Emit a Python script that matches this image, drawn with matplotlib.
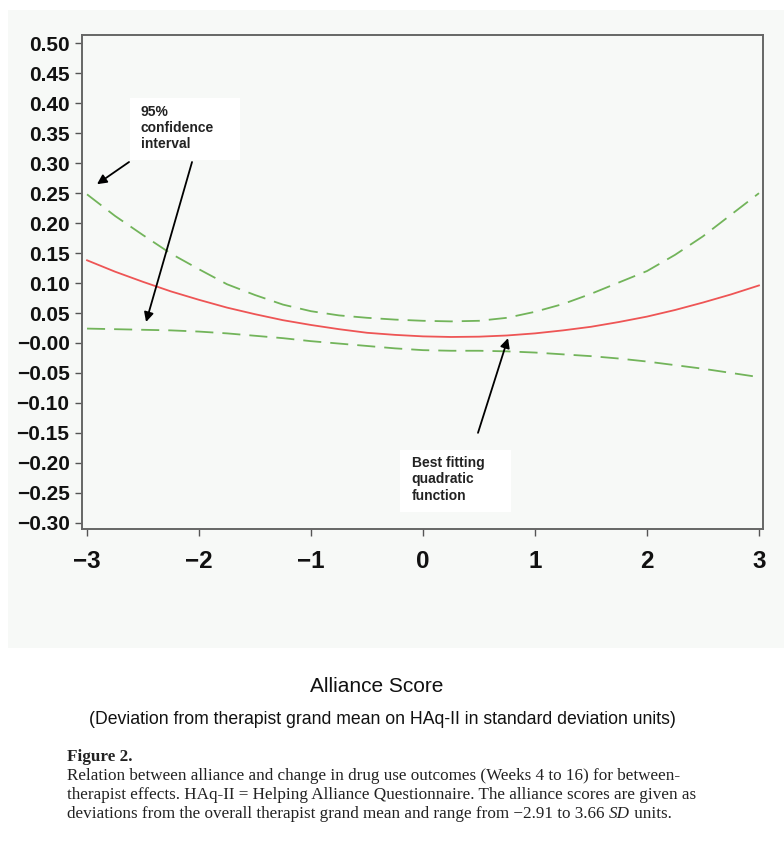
import matplotlib
matplotlib.use("Agg")
import matplotlib.pyplot as plt
from matplotlib.patches import Rectangle

# ---- data ----
x_vals = [-3.0, -2.75, -2.5, -2.25, -2.0, -1.75, -1.5, -1.25, -1.0, -0.75, -0.5, -0.25, 0.0,
          0.25, 0.5, 0.75, 1.0, 1.25, 1.5, 1.75, 2.0, 2.25, 2.5, 2.75, 3.0]
fit_vals = [0.138, 0.119, 0.102, 0.086, 0.072, 0.059, 0.048, 0.038, 0.030, 0.023, 0.017, 0.0135, 0.011,
            0.010, 0.0105, 0.0125, 0.016, 0.021, 0.027, 0.035, 0.044, 0.055, 0.0675, 0.081, 0.096]
upper_vals = [0.248, 0.212, 0.180, 0.149, 0.123, 0.098, 0.080, 0.064, 0.053, 0.046, 0.042, 0.039, 0.037,
              0.036, 0.037, 0.042, 0.052, 0.065, 0.082, 0.101, 0.120, 0.147, 0.178, 0.214, 0.250]
lower_vals = [0.024, 0.023, 0.022, 0.021, 0.019, 0.016, 0.012, 0.008, 0.003, -0.001, -0.005, -0.009, -0.012,
              -0.013, -0.013, -0.014, -0.016, -0.019, -0.022, -0.026, -0.031, -0.037, -0.043, -0.050, -0.057]

x_ticks = [-3, -2, -1, 0, 1, 2, 3]
x_tick_labels = ["\u22123", "\u22122", "\u22121", "0", "1", "2", "3"]
y_ticks = [0.50, 0.45, 0.40, 0.35, 0.30, 0.25, 0.20, 0.15, 0.10, 0.05, 0.00,
           -0.05, -0.10, -0.15, -0.20, -0.25, -0.30]
y_tick_labels = ["0.50", "0.45", "0.40", "0.35", "0.30", "0.25", "0.20", "0.15", "0.10",
                 "0.05", "\u22120.00", "\u22120.05", "\u22120.10", "\u22120.15", "\u22120.20",
                 "\u22120.25", "\u22120.30"]

xlabel = "Alliance Score"
xsublabel = "(Deviation from therapist grand mean on HAq-II in standard deviation units)"
caption_title = "Figure 2."
caption_lines = [
    "Relation between alliance and change in drug use outcomes (Weeks 4 to 16) for between-",
    "therapist effects. HAq-II = Helping Alliance Questionnaire. The alliance scores are given as",
]
caption_last_a = "deviations from the overall therapist grand mean and range from \u22122.91 to 3.66 "
caption_last_b = "SD"
caption_last_c = " units."

W, H = 784, 841
fig = plt.figure(figsize=(W / 100, H / 100), dpi=100, facecolor="white")

bg = "#f7f9f7"
fig.patches.append(Rectangle((8 / W, 1 - 648 / H), 1 - 8 / W, (648 - 10) / H,
                             transform=fig.transFigure, facecolor=bg, edgecolor="none", zorder=-10))

ax = fig.add_axes([82 / W, 1 - 529 / H, 681 / W, 494 / H])
ax.set_facecolor(bg)
ax.set_xlim(-3.045, 3.036)
ax.set_ylim(-0.3105, 0.514)

ax.plot(x_vals, fit_vals, color="#ee5555", lw=1.3)
ax.plot(x_vals, upper_vals, color="#72b45a", lw=1.3, dashes=(10, 5))
ax.plot(x_vals, lower_vals, color="#72b45a", lw=1.3, dashes=(10, 5))

for s in ax.spines.values():
    s.set_color("#666666")
    s.set_linewidth(1.4)

ax.set_xticks(x_ticks)
ax.set_xticklabels(x_tick_labels)
ax.set_yticks(y_ticks)
ax.set_yticklabels(y_tick_labels)
ax.tick_params(axis="both", direction="out", length=5, width=1.0, color="#555555")
ax.tick_params(axis="y", pad=4)
ax.tick_params(axis="x", pad=10)
for lab in ax.get_yticklabels():
    lab.set_fontfamily("Liberation Sans")
    lab.set_fontweight("bold")
    lab.set_fontsize(15)
    lab.set_color("#111111")
for lab in ax.get_xticklabels():
    lab.set_fontfamily("Liberation Sans")
    lab.set_fontweight("bold")
    lab.set_fontsize(17.5)
    lab.set_color("#111111")

# annotation boxes
box_font = dict(fontfamily="Liberation Sans", fontweight="bold", fontsize=10, color="#222222",
                linespacing=1.2)
ax.add_patch(Rectangle((-2.616, 0.305), 0.982, 0.104, facecolor="white", edgecolor="none", zorder=3))
ax.text(-2.52, 0.398, "95%\nconfidence\ninterval", va="top", ha="left", zorder=4, **box_font)
ax.add_patch(Rectangle((-0.205, -0.2823), 0.991, 0.1035, facecolor="white", edgecolor="none", zorder=3))
ax.text(-0.10, -0.189, "Best fitting\nquadratic\nfunction", va="top", ha="left", zorder=4, **box_font)

arrow = dict(arrowstyle="-|>", color="black", lw=1.3, mutation_scale=14, shrinkA=0, shrinkB=0)
ax.annotate("", xy=(-2.911, 0.265), xytext=(-2.625, 0.302), arrowprops=arrow, zorder=5)
ax.annotate("", xy=(-2.473, 0.035), xytext=(-2.0625, 0.302), arrowprops=arrow, zorder=5)
ax.annotate("", xy=(0.759, 0.008), xytext=(0.491, -0.150), arrowprops=arrow, zorder=5)

# axis label text
fig.text(377 / W, 1 - 686 / H, xlabel, ha="center", va="center",
         fontfamily="Liberation Sans", fontsize=15, color="#111111")
fig.text(382 / W, 1 - 719 / H, xsublabel, ha="center", va="center",
         fontfamily="Liberation Sans", fontsize=12.7, color="#111111")

# caption
cap = dict(fontfamily="Liberation Serif", fontsize=12.3, color="#222222", va="center", ha="left")
fig.text(67 / W, 1 - 757 / H, caption_title, fontweight="bold", **cap)
for i, line in enumerate(caption_lines):
    fig.text(67 / W, 1 - (776 + 19 * i) / H, line, **cap)
t1 = fig.text(67 / W, 1 - 814 / H, caption_last_a, **cap)
fig.canvas.draw()
r = fig.canvas.get_renderer()
bb = t1.get_window_extent(r)
t2 = fig.text(bb.x1 / W, 1 - 814 / H, caption_last_b, style="italic", **cap)
bb2 = t2.get_window_extent(r)
fig.text(bb2.x1 / W, 1 - 814 / H, caption_last_c, **cap)

fig.savefig("out.png", dpi=100, facecolor="white")
